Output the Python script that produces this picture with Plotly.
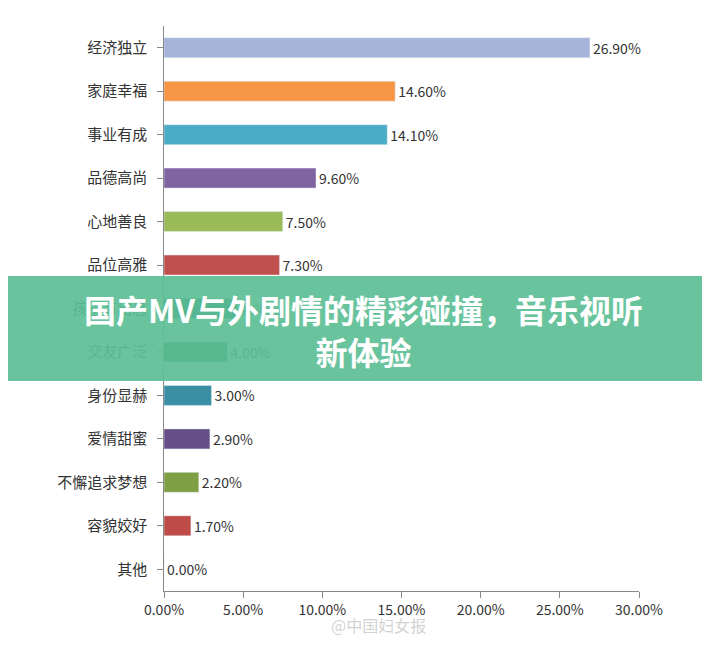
import plotly.graph_objects as go

categories = ["经济独立", "家庭幸福", "事业有成", "品德高尚", "心地善良", "品位高雅",
              "孩子有出息", "交友广泛", "身份显赫", "爱情甜蜜", "不懈追求梦想", "容貌姣好", "其他"]
values = [26.9, 14.6, 14.1, 9.6, 7.5, 7.3, 4.6, 4.0, 3.0, 2.9, 2.2, 1.7, 0.0]
colors = ["#a5b4d8", "#f79646", "#4bacc6", "#8064a2", "#9bbb59", "#c0504d",
          "#0b5f5a", "#1d6a33", "#3a8fa5", "#664f87", "#7f9f45", "#be4b48", "#4f81bd"]
ticks = [0, 5, 10, 15, 20, 25, 30]

fig = go.Figure(go.Bar(
    y=categories, x=values, orientation="h", marker_color=colors, width=0.46,
    text=[f"{v:.2f}%" for v in values], textposition="outside", cliponaxis=False,
    textfont=dict(size=14, color="#333333"),
))
fig.update_layout(
    width=710, height=655, paper_bgcolor="white", plot_bgcolor="white",
    margin=dict(l=156, r=79, t=18, b=72), showlegend=False,
    font=dict(family="Noto Sans CJK SC", size=15, color="#333333"),
    xaxis=dict(range=[0, 30], tickvals=ticks, ticktext=[f"{t:.2f}%" for t in ticks],
               showgrid=False, showline=True, linecolor="#888888", ticks="outside",
               ticklen=6, tickcolor="#888888", tickfont=dict(size=14), zeroline=False,
               automargin=False),
    yaxis=dict(autorange="reversed", showline=True, linecolor="#888888", ticks="outside",
               ticklen=6, tickcolor="#888888", ticksuffix="  ", automargin=False),
)
fig.add_shape(type="rect", xref="paper", yref="paper", x0=-0.5, x1=1.5,
              y0=(590 - 380) / 565, y1=(590 - 275) / 565,
              fillcolor="rgb(92,191,150)", opacity=0.92, line_width=0, layer="above")
fig.add_annotation(xref="paper", yref="paper", x=(355 - 156) / 475, y=(590 - 329) / 565,
                   text="<b>国产MV与外剧情的精彩碰撞，音乐视听<br>新体验</b>", showarrow=False,
                   font=dict(size=32, color="white", family="Noto Sans CJK SC"), align="center")
fig.add_annotation(xref="paper", yref="paper", x=(370 - 156) / 475, y=-0.085,
                   text="@中国妇女报", showarrow=False,
                   font=dict(size=16, color="rgba(180,180,180,0.6)"))
fig.write_html("out.html")
